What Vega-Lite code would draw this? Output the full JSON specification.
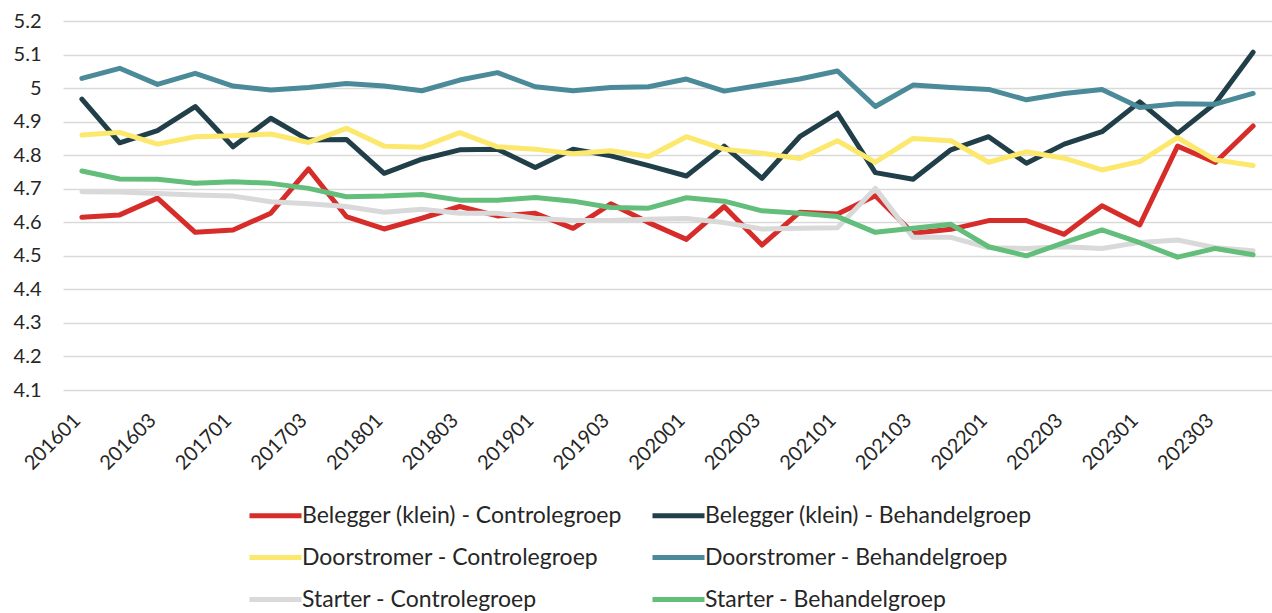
{
  "$schema": "https://vega.github.io/schema/vega-lite/v6.json",
  "width": 1209,
  "height": 369,
  "autosize": {"type": "none"},
  "padding": {"left": 63, "top": 21, "right": 0, "bottom": 223},
  "background": "white",
  "config": {
    "font": "Lato",
    "view": {"stroke": null},
    "axis": {"labelFont": "Lato", "labelColor": "#262626", "labelFontSize": 20}
  },
  "data": {
    "values": [
      {"q": "201601", "Belegger (klein) - Controlegroep": 4.615, "Belegger (klein) - Behandelgroep": 4.967, "Doorstromer - Controlegroep": 4.860, "Doorstromer - Behandelgroep": 5.029, "Starter - Controlegroep": 4.691, "Starter - Behandelgroep": 4.753},
      {"q": "201602", "Belegger (klein) - Controlegroep": 4.622, "Belegger (klein) - Behandelgroep": 4.837, "Doorstromer - Controlegroep": 4.868, "Doorstromer - Behandelgroep": 5.059, "Starter - Controlegroep": 4.690, "Starter - Behandelgroep": 4.729},
      {"q": "201603", "Belegger (klein) - Controlegroep": 4.672, "Belegger (klein) - Behandelgroep": 4.873, "Doorstromer - Controlegroep": 4.833, "Doorstromer - Behandelgroep": 5.011, "Starter - Controlegroep": 4.686, "Starter - Behandelgroep": 4.728},
      {"q": "201604", "Belegger (klein) - Controlegroep": 4.570, "Belegger (klein) - Behandelgroep": 4.945, "Doorstromer - Controlegroep": 4.855, "Doorstromer - Behandelgroep": 5.044, "Starter - Controlegroep": 4.681, "Starter - Behandelgroep": 4.716},
      {"q": "201701", "Belegger (klein) - Controlegroep": 4.577, "Belegger (klein) - Behandelgroep": 4.825, "Doorstromer - Controlegroep": 4.858, "Doorstromer - Behandelgroep": 5.006, "Starter - Controlegroep": 4.678, "Starter - Behandelgroep": 4.721},
      {"q": "201702", "Belegger (klein) - Controlegroep": 4.627, "Belegger (klein) - Behandelgroep": 4.910, "Doorstromer - Controlegroep": 4.863, "Doorstromer - Behandelgroep": 4.994, "Starter - Controlegroep": 4.661, "Starter - Behandelgroep": 4.716},
      {"q": "201703", "Belegger (klein) - Controlegroep": 4.759, "Belegger (klein) - Behandelgroep": 4.845, "Doorstromer - Controlegroep": 4.838, "Doorstromer - Behandelgroep": 5.002, "Starter - Controlegroep": 4.655, "Starter - Behandelgroep": 4.701},
      {"q": "201704", "Belegger (klein) - Controlegroep": 4.617, "Belegger (klein) - Behandelgroep": 4.847, "Doorstromer - Controlegroep": 4.880, "Doorstromer - Behandelgroep": 5.014, "Starter - Controlegroep": 4.647, "Starter - Behandelgroep": 4.676},
      {"q": "201801", "Belegger (klein) - Controlegroep": 4.580, "Belegger (klein) - Behandelgroep": 4.746, "Doorstromer - Controlegroep": 4.827, "Doorstromer - Behandelgroep": 5.006, "Starter - Controlegroep": 4.630, "Starter - Behandelgroep": 4.678},
      {"q": "201802", "Belegger (klein) - Controlegroep": 4.612, "Belegger (klein) - Behandelgroep": 4.788, "Doorstromer - Controlegroep": 4.824, "Doorstromer - Behandelgroep": 4.992, "Starter - Controlegroep": 4.639, "Starter - Behandelgroep": 4.683},
      {"q": "201803", "Belegger (klein) - Controlegroep": 4.647, "Belegger (klein) - Behandelgroep": 4.816, "Doorstromer - Controlegroep": 4.867, "Doorstromer - Behandelgroep": 5.024, "Starter - Controlegroep": 4.627, "Starter - Behandelgroep": 4.666},
      {"q": "201804", "Belegger (klein) - Controlegroep": 4.619, "Belegger (klein) - Behandelgroep": 4.818, "Doorstromer - Controlegroep": 4.825, "Doorstromer - Behandelgroep": 5.046, "Starter - Controlegroep": 4.627, "Starter - Behandelgroep": 4.666},
      {"q": "201901", "Belegger (klein) - Controlegroep": 4.627, "Belegger (klein) - Behandelgroep": 4.763, "Doorstromer - Controlegroep": 4.818, "Doorstromer - Behandelgroep": 5.004, "Starter - Controlegroep": 4.612, "Starter - Behandelgroep": 4.674},
      {"q": "201902", "Belegger (klein) - Controlegroep": 4.582, "Belegger (klein) - Behandelgroep": 4.818, "Doorstromer - Controlegroep": 4.804, "Doorstromer - Behandelgroep": 4.992, "Starter - Controlegroep": 4.605, "Starter - Behandelgroep": 4.663},
      {"q": "201903", "Belegger (klein) - Controlegroep": 4.655, "Belegger (klein) - Behandelgroep": 4.798, "Doorstromer - Controlegroep": 4.813, "Doorstromer - Behandelgroep": 5.002, "Starter - Controlegroep": 4.605, "Starter - Behandelgroep": 4.644},
      {"q": "201904", "Belegger (klein) - Controlegroep": 4.599, "Belegger (klein) - Behandelgroep": 4.769, "Doorstromer - Controlegroep": 4.796, "Doorstromer - Behandelgroep": 5.004, "Starter - Controlegroep": 4.609, "Starter - Behandelgroep": 4.642},
      {"q": "202001", "Belegger (klein) - Controlegroep": 4.549, "Belegger (klein) - Behandelgroep": 4.738, "Doorstromer - Controlegroep": 4.855, "Doorstromer - Behandelgroep": 5.027, "Starter - Controlegroep": 4.611, "Starter - Behandelgroep": 4.673},
      {"q": "202002", "Belegger (klein) - Controlegroep": 4.647, "Belegger (klein) - Behandelgroep": 4.827, "Doorstromer - Controlegroep": 4.818, "Doorstromer - Behandelgroep": 4.991, "Starter - Controlegroep": 4.599, "Starter - Behandelgroep": 4.663},
      {"q": "202003", "Belegger (klein) - Controlegroep": 4.532, "Belegger (klein) - Behandelgroep": 4.731, "Doorstromer - Controlegroep": 4.806, "Doorstromer - Behandelgroep": 5.009, "Starter - Controlegroep": 4.580, "Starter - Behandelgroep": 4.634},
      {"q": "202004", "Belegger (klein) - Controlegroep": 4.630, "Belegger (klein) - Behandelgroep": 4.855, "Doorstromer - Controlegroep": 4.790, "Doorstromer - Behandelgroep": 5.027, "Starter - Controlegroep": 4.582, "Starter - Behandelgroep": 4.627},
      {"q": "202101", "Belegger (klein) - Controlegroep": 4.625, "Belegger (klein) - Behandelgroep": 4.925, "Doorstromer - Controlegroep": 4.843, "Doorstromer - Behandelgroep": 5.051, "Starter - Controlegroep": 4.584, "Starter - Behandelgroep": 4.617},
      {"q": "202102", "Belegger (klein) - Controlegroep": 4.679, "Belegger (klein) - Behandelgroep": 4.748, "Doorstromer - Controlegroep": 4.779, "Doorstromer - Behandelgroep": 4.945, "Starter - Controlegroep": 4.701, "Starter - Behandelgroep": 4.570},
      {"q": "202103", "Belegger (klein) - Controlegroep": 4.567, "Belegger (klein) - Behandelgroep": 4.728, "Doorstromer - Controlegroep": 4.850, "Doorstromer - Behandelgroep": 5.009, "Starter - Controlegroep": 4.555, "Starter - Behandelgroep": 4.582},
      {"q": "202104", "Belegger (klein) - Controlegroep": 4.579, "Belegger (klein) - Behandelgroep": 4.816, "Doorstromer - Controlegroep": 4.843, "Doorstromer - Behandelgroep": 5.002, "Starter - Controlegroep": 4.555, "Starter - Behandelgroep": 4.594},
      {"q": "202201", "Belegger (klein) - Controlegroep": 4.605, "Belegger (klein) - Behandelgroep": 4.855, "Doorstromer - Controlegroep": 4.779, "Doorstromer - Behandelgroep": 4.996, "Starter - Controlegroep": 4.524, "Starter - Behandelgroep": 4.527},
      {"q": "202202", "Belegger (klein) - Controlegroep": 4.605, "Belegger (klein) - Behandelgroep": 4.776, "Doorstromer - Controlegroep": 4.810, "Doorstromer - Behandelgroep": 4.965, "Starter - Controlegroep": 4.522, "Starter - Behandelgroep": 4.500},
      {"q": "202203", "Belegger (klein) - Controlegroep": 4.564, "Belegger (klein) - Behandelgroep": 4.833, "Doorstromer - Controlegroep": 4.791, "Doorstromer - Behandelgroep": 4.984, "Starter - Controlegroep": 4.527, "Starter - Behandelgroep": 4.539},
      {"q": "202204", "Belegger (klein) - Controlegroep": 4.649, "Belegger (klein) - Behandelgroep": 4.870, "Doorstromer - Controlegroep": 4.756, "Doorstromer - Behandelgroep": 4.996, "Starter - Controlegroep": 4.522, "Starter - Behandelgroep": 4.577},
      {"q": "202301", "Belegger (klein) - Controlegroep": 4.592, "Belegger (klein) - Behandelgroep": 4.959, "Doorstromer - Controlegroep": 4.781, "Doorstromer - Behandelgroep": 4.942, "Starter - Controlegroep": 4.540, "Starter - Behandelgroep": 4.539},
      {"q": "202302", "Belegger (klein) - Controlegroep": 4.827, "Belegger (klein) - Behandelgroep": 4.865, "Doorstromer - Controlegroep": 4.852, "Doorstromer - Behandelgroep": 4.953, "Starter - Controlegroep": 4.547, "Starter - Behandelgroep": 4.496},
      {"q": "202303", "Belegger (klein) - Controlegroep": 4.778, "Belegger (klein) - Behandelgroep": 4.955, "Doorstromer - Controlegroep": 4.786, "Doorstromer - Behandelgroep": 4.952, "Starter - Controlegroep": 4.524, "Starter - Behandelgroep": 4.522},
      {"q": "202304", "Belegger (klein) - Controlegroep": 4.887, "Belegger (klein) - Behandelgroep": 5.107, "Doorstromer - Controlegroep": 4.769, "Doorstromer - Behandelgroep": 4.984, "Starter - Controlegroep": 4.515, "Starter - Behandelgroep": 4.503}
    ]
  },
  "transform": [
    {"fold": ["Belegger (klein) - Controlegroep", "Belegger (klein) - Behandelgroep", "Doorstromer - Controlegroep", "Doorstromer - Behandelgroep", "Starter - Controlegroep", "Starter - Behandelgroep"], "as": ["serie", "waarde"]}
  ],
  "mark": {"type": "line", "strokeWidth": 5, "strokeJoin": "round", "strokeCap": "round"},
  "encoding": {
    "x": {
      "field": "q", "type": "ordinal", "sort": null,
      "scale": {"type": "point", "padding": 0.5},
      "axis": {
        "title": null, "domain": false, "ticks": false, "grid": false,
        "values": ["201601","201603","201701","201703","201801","201803","201901","201903","202001","202003","202101","202103","202201","202203","202301","202303"],
        "labelAngle": -45, "labelAlign": "right", "labelBaseline": "middle",
        "labelPadding": 27, "labelOffset": -5
      }
    },
    "y": {
      "field": "waarde", "type": "quantitative",
      "scale": {"domain": [4.1, 5.2], "nice": false, "zero": false},
      "axis": {
        "title": null, "domain": false, "ticks": false,
        "values": [4.1, 4.2, 4.3, 4.4, 4.5, 4.6, 4.7, 4.8, 4.9, 5.0, 5.1, 5.2],
        "format": ".2~f", "labelPadding": 22,
        "grid": true, "gridColor": "#d9d9d9", "gridWidth": 1.5
      }
    },
    "color": {
      "field": "serie", "type": "nominal",
      "scale": {
        "domain": ["Belegger (klein) - Controlegroep", "Belegger (klein) - Behandelgroep", "Doorstromer - Controlegroep", "Doorstromer - Behandelgroep", "Starter - Controlegroep", "Starter - Behandelgroep"],
        "range": ["#d62d2a", "#203f48", "#fce86c", "#4a8a99", "#d9d9d9", "#63be7b"]
      },
      "legend": {
        "title": null, "orient": "none", "legendX": 184, "legendY": 479,
        "direction": "horizontal",
        "columns": 2, "symbolType": "M-1,0H3", "symbolSize": 676, "symbolStrokeWidth": 5,
        "labelFontSize": 23, "labelFont": "Lato", "labelColor": "#262626", "labelOffset": 24,
        "columnPadding": 20, "rowPadding": 14, "labelLimit": 0
      }
    }
  }
}
